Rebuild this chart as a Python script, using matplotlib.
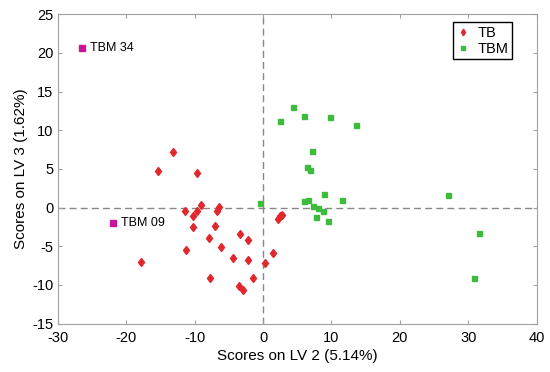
import numpy as np
import matplotlib.pyplot as plt

plt.rcParams['font.family'] = ['Liberation Sans', 'DejaVu Sans']
plt.rcParams['axes.unicode_minus'] = False

# TB scores (LV2, LV3)
tb_x = [-13.2, -15.4, -9.7, -11.4, -9.7, -9.05, -10.2, -10.3, -6.66, -6.37,
        -6.95, -7.97, -11.2, -6.13, -3.4, -2.23, -4.32, -2.23, -17.8, -7.74,
        -3.55, -2.92, -1.4, 0.35, 1.5, 2.2, 2.48, 2.73]
tb_y = [7.16, 4.7, 4.44, -0.47, -0.39, 0.31, -1.11, -2.53, -0.47, 0.05,
        -2.32, -3.95, -5.47, -5.04, -3.4, -4.13, -6.46, -6.72, -7.05, -9.04,
        -10.1, -10.6, -9.04, -7.2, -5.9, -1.46, -1.11, -0.9]

# TBM scores
tbm_x = [2.48, 4.38, 5.99, 9.74, 13.58, 7.11, 6.38, 6.86, 8.96, 27.0,
         -0.44, 5.94, 6.57, 11.6, 7.36, 8.09, 8.76, 7.69, 9.49, 31.6, 30.8]
tbm_y = [11.16, 13.05, 11.89, 11.76, 10.72, 7.29, 5.26, 4.91, 1.77, 1.64,
         0.57, 0.83, 1.03, 0.99, 0.18, 0.0, -0.43, -1.2, -1.68, -3.31, -9.13]

# highlighted samples
hl_names = ['TBM 34', 'TBM 09']
hl_x = [-26.4, -21.9]
hl_y = [20.7, -1.94]

fig = plt.figure(figsize=(5.5, 3.72), dpi=100)
ax = fig.add_axes([0.105, 0.13, 0.871, 0.8316])

ax.axhline(0, color='#888888', lw=1, ls=(0, (5, 3)), zorder=1)
ax.axvline(0, color='#888888', lw=1, ls=(0, (5, 3)), zorder=1)

ax.plot(tb_x, tb_y, 'd', color='#e0282c', ms=4.5, mec='#e0282c', label='TB', zorder=3)
ax.plot(tbm_x, tbm_y, 's', color='#3dbb3d', ms=3.6, mec='#3dbb3d', label='TBM', zorder=3)
ax.plot(hl_x, hl_y, 's', color='#c8149b', ms=5, zorder=3)
for name, x, y in zip(hl_names, hl_x, hl_y):
    ax.text(x + 1.1, y, name, fontsize=9, va='center', ha='left')

ax.set_xlim(-30, 40)
ax.set_ylim(-15, 25)
ax.set_xticks(np.arange(-30, 41, 10))
ax.set_yticks(np.arange(-15, 26, 5))
ax.tick_params(direction='in', top=True, right=True, length=3,
               color='#a0a0a0', labelsize=10.5)
ax.tick_params(axis='x', pad=5)
ax.tick_params(axis='y', pad=3)
for s in ax.spines.values():
    s.set_color('#a0a0a0')
    s.set_linewidth(0.8)

ax.set_xlabel('Scores on LV 2 (5.14%)', fontsize=11, labelpad=3)
ax.set_ylabel('Scores on LV 3 (1.62%)', fontsize=11, labelpad=3)

leg = ax.legend(loc='upper right', bbox_to_anchor=(0.948, 0.975), fontsize=10.5,
                fancybox=False, framealpha=1, edgecolor='black', markerscale=0.75,
                handlelength=0.8, handletextpad=0.6, borderpad=0.25,
                labelspacing=0.15, borderaxespad=0)
leg.get_frame().set_linewidth(1)

fig.savefig('out.png', dpi=100)
